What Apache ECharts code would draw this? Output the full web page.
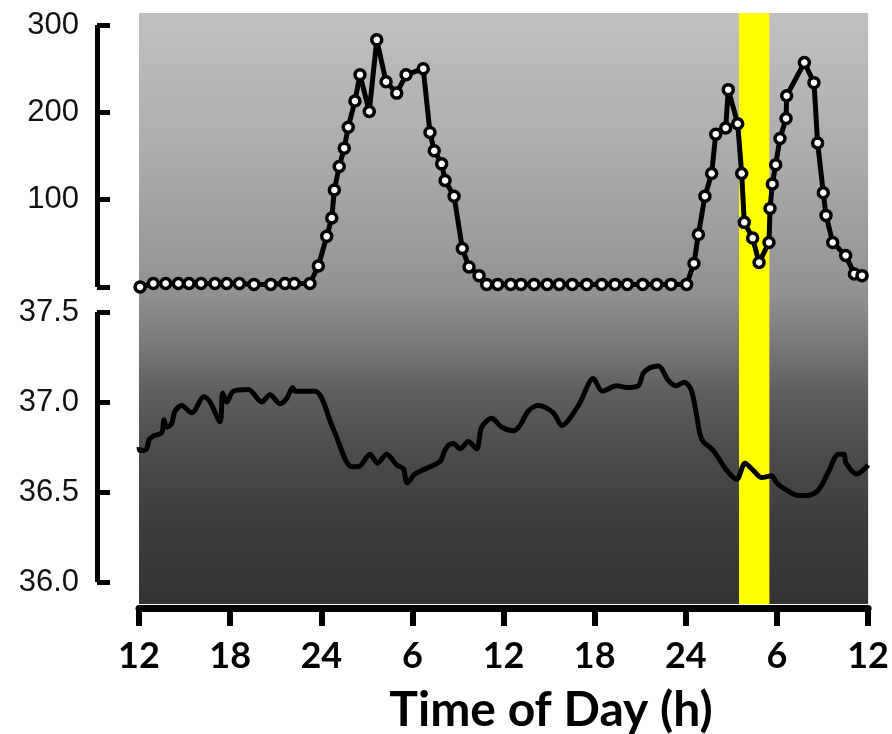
<!DOCTYPE html>
<html>
<head>
<meta charset="utf-8">
<script src="https://cdn.jsdelivr.net/npm/echarts@6/dist/echarts.min.js"></script>
<style>
  html, body { margin: 0; padding: 0; background: #fff; }
  #chart { width: 892px; height: 734px; }
</style>
</head>
<body>
<div id="chart"></div>
<script>
// Time axis: hours elapsed since 12:00 on day one (48 h shown)
const xTickLabels = ['12', '18', '24', '6', '12', '18', '24', '6', '12'];
const activityTicks = [0, 100, 200, 300];
const tempTicks = [36.0, 36.5, 37.0, 37.5];

// Shaded interval (hours)
const bandStart = 39.5;
const bandEnd = 41.5;

// Activity counts
const activityHours = [
  0.07, 0.94, 1.75, 2.58, 3.28, 4.07, 4.98, 5.75, 6.58, 7.54, 8.64, 9.57, 10.18, 11.21,
  11.76, 12.31, 12.64, 12.81, 13.13, 13.46, 13.72, 14.16, 14.49, 15.10, 15.59, 16.20,
  16.90, 17.51, 18.64, 19.08, 19.36, 19.85, 20.07, 20.66, 21.20, 21.64, 22.30, 22.80,
  23.52, 24.37, 25.05, 25.90, 26.77, 27.56, 28.41, 29.36, 30.34, 31.21, 32.02, 33.03,
  33.95, 34.89, 35.91, 36.39, 36.68, 37.11, 37.55, 37.82, 38.47, 38.64, 39.26, 39.52,
  39.69, 40.24, 40.66, 41.31, 41.38, 41.53, 41.75, 42.03, 42.43, 42.47, 43.63, 44.26,
  44.50, 44.87, 45.05, 45.49, 46.34, 46.91, 47.41
];
const activityValues = [
  0, 4, 4, 4, 4, 4, 4, 4, 4, 3, 3, 4, 4, 4,
  24, 58, 79, 111, 138, 159, 183, 213, 243, 201, 283, 235,
  222, 243, 250, 177, 156, 141, 122, 104, 44, 23, 13, 3,
  3, 3, 3, 3, 3, 3, 3, 3, 3, 3, 3, 3,
  3, 3, 3, 27, 60, 104, 130, 175, 182, 226, 187, 130,
  74, 56, 28, 51, 90, 118, 140, 170, 193, 219, 257, 234,
  165, 108, 82, 51, 36, 15, 13
];

// Core body temperature (°C)
const tempHours = [
  0.00, 0.07, 0.50, 0.66, 0.94, 1.49, 1.64, 1.82, 2.14, 2.36, 2.80, 3.46, 4.26, 4.66,
  5.31, 5.49, 5.75, 6.18, 7.17, 8.05, 8.59, 9.25, 9.69, 10.08, 10.23, 11.54, 12.74,
  13.95, 14.38, 15.15, 15.63, 16.24, 16.90, 17.33, 17.59, 18.10, 19.74, 20.00, 20.28,
  20.61, 21.05, 21.59, 22.14, 22.47, 23.13, 23.78, 24.54, 24.98, 25.53, 26.18, 27.17,
  27.72, 28.81, 29.79, 30.38, 31.32, 31.98, 32.74, 33.07, 33.51, 34.05, 34.71, 35.21,
  35.76, 36.24, 36.79, 37.00, 37.66, 38.54, 39.19, 39.74, 40.28, 40.83, 41.49, 41.82,
  42.47, 43.23, 43.78, 44.54, 45.20, 45.86, 46.23, 46.36, 47.06, 47.82
];
const tempValues = [
  36.75, 36.73, 36.74, 36.79, 36.81, 36.83, 36.90, 36.86, 36.88, 36.95, 36.98, 36.94, 37.03, 37.00,
  36.89, 37.05, 37.00, 37.06, 37.07, 37.00, 37.04, 36.99, 37.02, 37.08, 37.06, 37.06, 36.85,
  36.64, 36.64, 36.71, 36.66, 36.71, 36.65, 36.63, 36.55, 36.60, 36.67, 36.72, 36.76,
  36.77, 36.74, 36.78, 36.74, 36.86, 36.91, 36.86, 36.84, 36.87, 36.95, 36.98, 36.94,
  36.87, 36.98, 37.13, 37.06, 37.09, 37.08, 37.09, 37.16, 37.19, 37.20, 37.12, 37.09,
  37.11, 37.06, 36.82, 36.78, 36.73, 36.62, 36.57, 36.66, 36.62, 36.58, 36.59, 36.55,
  36.51, 36.48, 36.48, 36.51, 36.61, 36.71, 36.71, 36.66, 36.60, 36.65
];

const zip = (xs, ys) => xs.map((x, i) => [x, ys[i]]);

const FONT = 'Lato, "Liberation Sans", sans-serif';
const TICK_FONT = '"Liberation Sans", Arial, sans-serif';
const plotLeft = 139, plotWidth = 732;

// Bracket-style vertical axes standing off to the left of the plot
const bracketAxis = {
  position: 'left',
  offset: 42,
  axisLine: { show: true, onZero: false, lineStyle: { color: '#000', width: 5, cap: 'butt' } },
  axisTick: { show: true, inside: true, length: 13, lineStyle: { color: '#000', width: 5 } },
  splitLine: { show: false },
  axisLabel: { margin: 18, fontSize: 31, fontFamily: TICK_FONT, color: '#111' }
};

const chart = echarts.init(document.getElementById('chart'), null, { renderer: 'canvas' });

chart.setOption({
  animation: false,
  backgroundColor: '#fff',
  title: {
    text: 'Time of Day (h)',
    left: 551,
    top: 687,
    padding: 0,
    textAlign: 'center',
    textStyle: { fontSize: 48, fontWeight: 'bold', fontFamily: FONT, color: '#000' }
  },
  grid: [
    {
      left: plotLeft, width: plotWidth, top: 13, height: 591,
      show: true, borderWidth: 0,
      backgroundColor: {
        type: 'linear', x: 0, y: 0, x2: 0, y2: 1,
        colorStops: [
          { offset: 0.00, color: '#c0c0c0' },
          { offset: 0.23, color: '#adadad' },
          { offset: 0.47, color: '#929292' },
          { offset: 0.54, color: '#7f7f7f' },
          { offset: 0.64, color: '#5f5f5f' },
          { offset: 0.74, color: '#4c4c4c' },
          { offset: 0.87, color: '#3c3c3c' },
          { offset: 1.00, color: '#333333' }
        ]
      }
    },
    { left: plotLeft, width: plotWidth, top: 25, height: 262 },
    { left: plotLeft, width: plotWidth, top: 312, height: 270 }
  ],
  xAxis: [
    {
      gridIndex: 0, type: 'value', min: 0, max: 48, interval: 6, offset: 4,
      axisLine: { onZero: false, lineStyle: { color: '#000', width: 7 } },
      axisTick: { length: 18, lineStyle: { color: '#000', width: 6 } },
      splitLine: { show: false },
      axisLabel: {
        margin: 30, fontSize: 36, fontWeight: 'bold', fontFamily: FONT, color: '#000',
        formatter: v => xTickLabels[Math.round(v / 6)]
      }
    },
    { gridIndex: 1, type: 'value', min: 0, max: 48, show: false },
    { gridIndex: 2, type: 'value', min: 0, max: 48, show: false }
  ],
  yAxis: [
    { gridIndex: 0, type: 'value', min: 0, max: 1, show: false },
    Object.assign({}, bracketAxis, {
      gridIndex: 1, type: 'value',
      min: activityTicks[0], max: activityTicks[activityTicks.length - 1], interval: 100,
      axisLabel: Object.assign({}, bracketAxis.axisLabel, {
        formatter: v => (v === activityTicks[0] ? '' : String(v))
      })
    }),
    Object.assign({}, bracketAxis, {
      gridIndex: 2, type: 'value',
      min: tempTicks[0], max: tempTicks[tempTicks.length - 1], interval: 0.5,
      axisLabel: Object.assign({}, bracketAxis.axisLabel, {
        formatter: v => v.toFixed(1)
      })
    })
  ],
  series: [
    {
      name: 'band', type: 'line', xAxisIndex: 0, yAxisIndex: 0,
      data: [[bandStart, 0]], symbol: 'none', lineStyle: { opacity: 0 }, z: 1,
      markArea: {
        silent: true,
        itemStyle: { color: '#ffff00', opacity: 1 },
        data: [[{ xAxis: bandStart }, { xAxis: bandEnd }]]
      }
    },
    {
      name: 'Activity', type: 'line', xAxisIndex: 1, yAxisIndex: 1,
      data: zip(activityHours, activityValues),
      symbol: 'circle', symbolSize: 10, showAllSymbol: true,
      itemStyle: { color: '#fff', borderColor: '#000', borderWidth: 3.5 },
      lineStyle: { color: '#000', width: 5 },
      z: 5
    },
    {
      name: 'Temperature', type: 'line', xAxisIndex: 2, yAxisIndex: 2,
      data: zip(tempHours, tempValues),
      symbol: 'none', smooth: 0.3,
      lineStyle: { color: '#000', width: 5 },
      z: 4
    }
  ]
});
</script>
</body>
</html>
